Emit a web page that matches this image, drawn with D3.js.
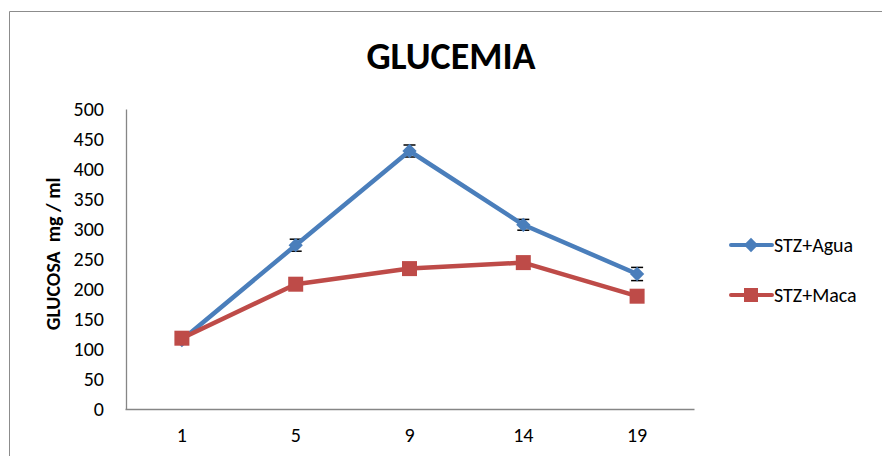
<!DOCTYPE html>
<html>
<head>
<meta charset="utf-8">
<script src="https://cdn.jsdelivr.net/npm/d3@7"></script>
<style>
  body { margin: 0; background: #fff; }
  svg text { font-family: Carlito, Calibri, "Open Sans", sans-serif; }
</style>
</head>
<body>
<div id="chart"></div>
<script>
// Data
const days = ['1', '5', '9', '14', '19'];
const agua = [115, 273, 430, 307, 225];
const aguaErr = [4, 10, 10, 9, 11];
const maca = [118, 208, 234, 244, 188];
const yTicks = [0, 50, 100, 150, 200, 250, 300, 350, 400, 450, 500];
const seriesNames = ['STZ+Agua', 'STZ+Maca'];

const width = 882, height = 456;
const blue = '#4A7EBB', red = '#BE4B48';

const svg = d3.select('#chart').append('svg')
    .attr('width', width)
    .attr('height', height);

// frame (only top and left visible)
svg.append('path')
    .attr('d', `M9.5,${height} L9.5,11.5 L${width},11.5`)
    .attr('fill', 'none')
    .attr('stroke', '#8c8c8c')
    .attr('stroke-width', 1);

const x = d3.scaleBand().domain(days).range([125, 694]);
const y = d3.scaleLinear().domain([0, 500]).range([409, 109]);

// title
svg.append('text')
    .attr('x', 451)
    .attr('y', 69)
    .attr('text-anchor', 'middle')
    .style('font-size', '38px')
    .style('font-weight', 'bold')
    .text('GLUCEMIA');

// y axis
const yAxis = svg.append('g')
    .attr('transform', 'translate(126,0)')
    .call(d3.axisLeft(y).tickValues(yTicks).tickSize(0).tickPadding(22));
yAxis.select('.domain').attr('stroke', '#868686').attr('stroke-width', 1.3);
yAxis.selectAll('text').style('font-size', '20px').attr('fill', '#000');

// x axis
const xAxis = svg.append('g')
    .attr('transform', 'translate(0,409)')
    .call(d3.axisBottom(x).tickSize(0).tickPadding(19));
xAxis.select('.domain').attr('stroke', '#868686').attr('stroke-width', 1.3);
xAxis.selectAll('text').style('font-size', '20px').attr('fill', '#000');

// y title
svg.append('text')
    .attr('transform', 'translate(60,254) rotate(-90)')
    .attr('text-anchor', 'middle')
    .style('font-size', '20px')
    .style('font-weight', 'bold')
    .style('white-space', 'pre')
    .text('GLUCOSA  mg / ml');

const cx = d => x(d) + x.bandwidth() / 2;
const line = d3.line().x(d => cx(d.day)).y(d => y(d.v));

const aguaData = days.map((d, i) => ({ day: d, v: agua[i], e: aguaErr[i] }));
const macaData = days.map((d, i) => ({ day: d, v: maca[i] }));

// error bars for agua
const err = svg.append('g').attr('stroke', '#000').attr('stroke-width', 1.5);
aguaData.forEach(d => {
    const px = cx(d.day);
    err.append('line').attr('x1', px).attr('x2', px).attr('y1', y(d.v + d.e)).attr('y2', y(d.v - d.e));
    err.append('line').attr('x1', px - 6).attr('x2', px + 6).attr('y1', y(d.v + d.e)).attr('y2', y(d.v + d.e));
    err.append('line').attr('x1', px - 6).attr('x2', px + 6).attr('y1', y(d.v - d.e)).attr('y2', y(d.v - d.e));
});

// agua line + diamonds
svg.append('path').datum(aguaData)
    .attr('d', line)
    .attr('fill', 'none')
    .attr('stroke', blue)
    .attr('stroke-width', 4.5)
    .attr('stroke-linejoin', 'round');

const diamond = d3.symbol().type(d3.symbolDiamond2).size(130);
svg.selectAll('.dia').data(aguaData).enter().append('path')
    .attr('class', 'dia')
    .attr('transform', d => `translate(${cx(d.day)},${y(d.v)})`)
    .attr('d', diamond)
    .attr('fill', blue);

// maca line + squares
svg.append('path').datum(macaData)
    .attr('d', line)
    .attr('fill', 'none')
    .attr('stroke', red)
    .attr('stroke-width', 4.5)
    .attr('stroke-linejoin', 'round');

svg.selectAll('.sq').data(macaData).enter().append('rect')
    .attr('class', 'sq')
    .attr('x', d => cx(d.day) - 7.5)
    .attr('y', d => y(d.v) - 7.5)
    .attr('width', 15)
    .attr('height', 15)
    .attr('fill', red);

// legend
const legend = svg.append('g');
[blue, red].forEach((c, i) => {
    const ly = 245 + i * 50;
    legend.append('line')
        .attr('x1', 731).attr('x2', 772)
        .attr('y1', ly).attr('y2', ly)
        .attr('stroke', c).attr('stroke-width', 4).attr('stroke-linecap', 'round');
    if (i === 0) {
        legend.append('path')
            .attr('transform', `translate(751,${ly})`)
            .attr('d', diamond)
            .attr('fill', c);
    } else {
        legend.append('rect')
            .attr('x', 744).attr('y', ly - 7).attr('width', 14).attr('height', 14)
            .attr('fill', c);
    }
    legend.append('text')
        .attr('x', 774)
        .attr('y', ly + 7)
        .style('font-size', '20px')
        .text(seriesNames[i]);
});
</script>
</body>
</html>
